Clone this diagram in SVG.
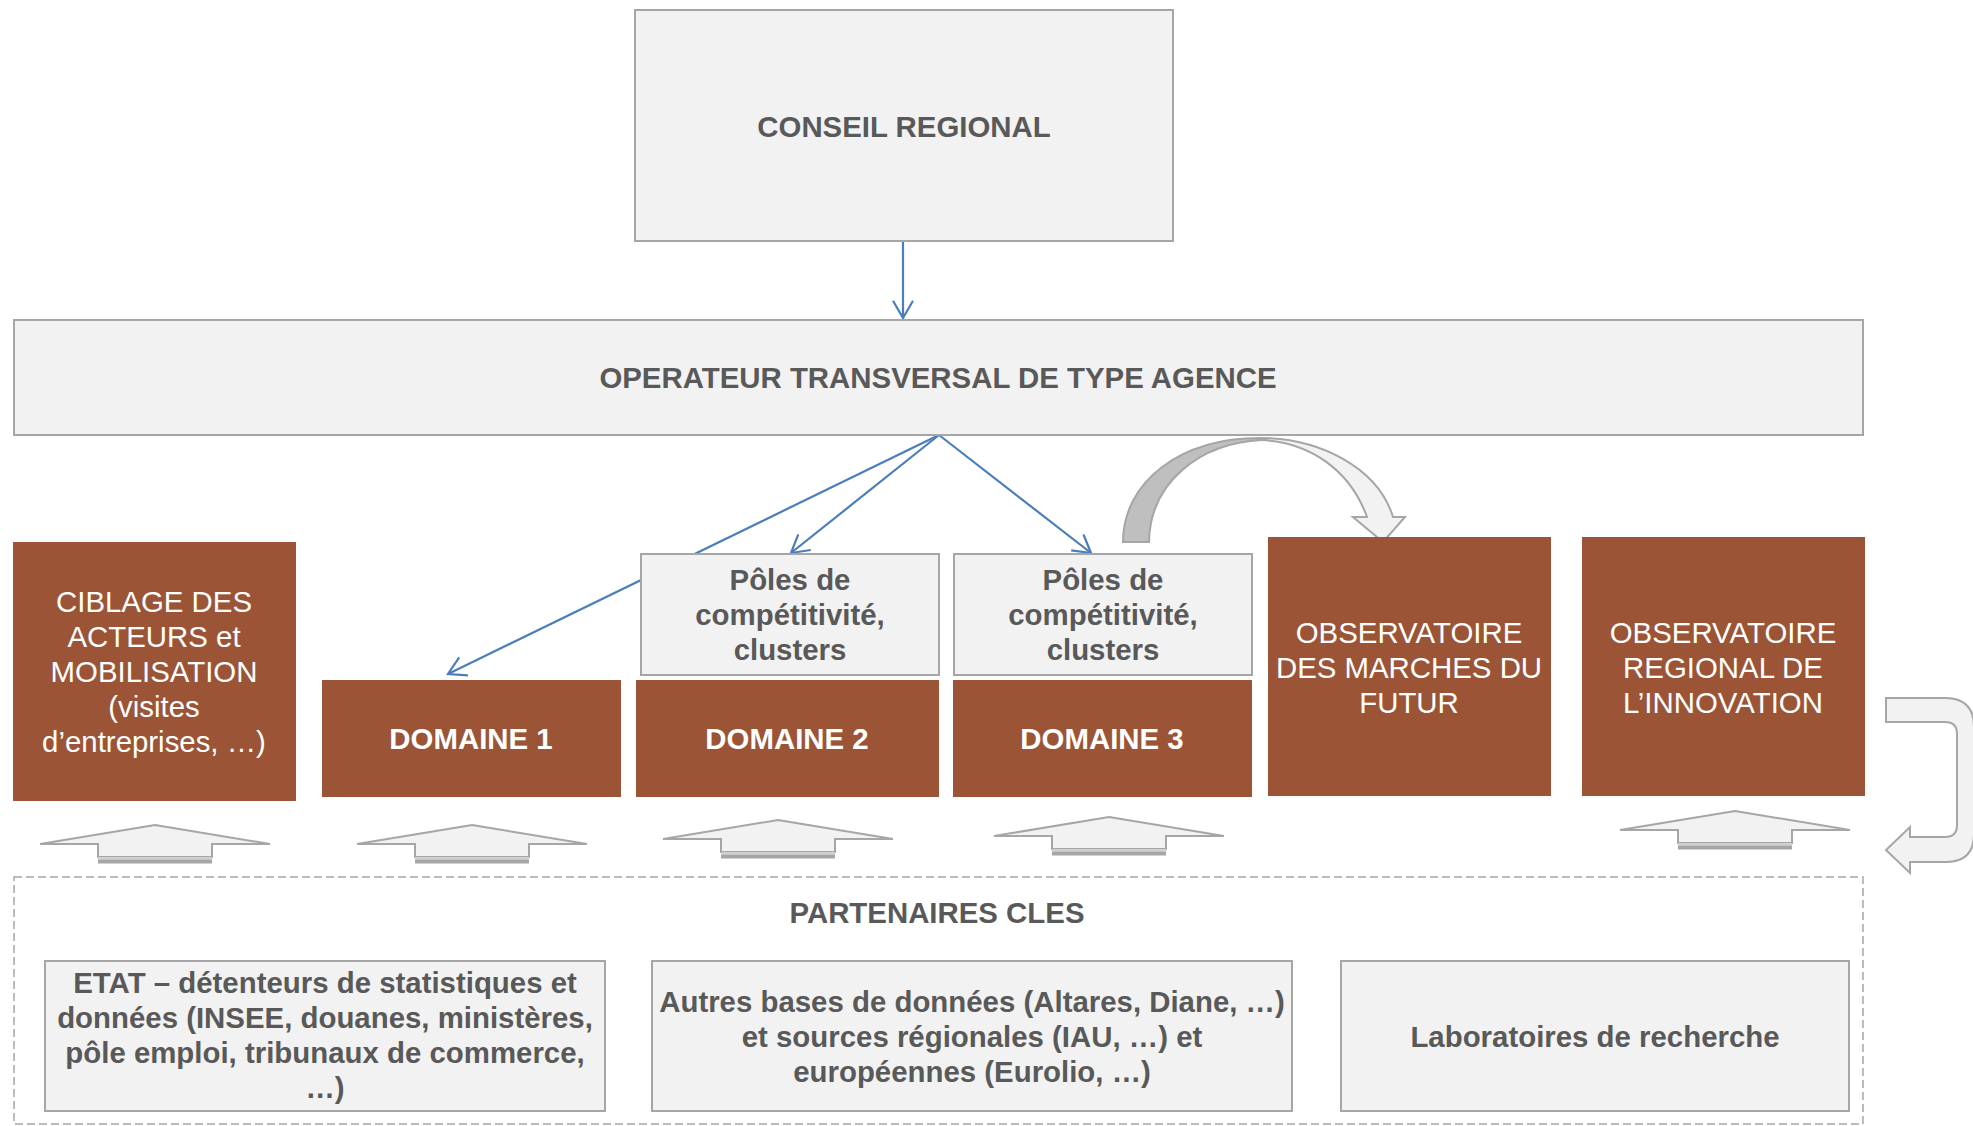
<svg xmlns="http://www.w3.org/2000/svg" xmlns:xlink="http://www.w3.org/1999/xlink" width="1973" height="1126" viewBox="0 0 1973 1126">
<style>
.box{fill:#F2F2F2;stroke:#A6A6A6;stroke-width:2}
.brown{fill:#9B5536}
.t{font-family:"Liberation Sans",Arial,sans-serif;font-size:29.4px;text-anchor:middle}
.g{fill:#595959;font-weight:bold}
.wb{fill:#FFFFFF;font-weight:bold}
.w{fill:#FFFFFF}
.blue{stroke:#4A7EBB;stroke-width:2.2;fill:none}
.blk{fill:#F2F2F2;stroke:#A6A6A6;stroke-width:2;stroke-linejoin:miter}
.dash{fill:none;stroke:#A6A6A6;stroke-width:1.5;stroke-dasharray:8 4}
</style>
<defs>
<marker id="open" markerUnits="userSpaceOnUse" viewBox="-20 -12 22 24" refX="0" refY="0" markerWidth="22" markerHeight="24" orient="auto">
<path d="M-17.3,-10 L0,0 L-17.3,10" fill="none" stroke="#4A7EBB" stroke-width="2.2"/>
</marker>
<g id="uparrow">
<polygon class="blk" points="0,0 115,19 57,19 57,32 -57,32 -57,19 -115,19"/>
<rect x="-57" y="32" width="114" height="2.5" fill="#D0D0D0"/>
<rect x="-57" y="34.5" width="114" height="4" fill="#A6A6A6"/>
</g>
</defs>
<rect width="1973" height="1126" fill="#FFFFFF"/>

<g id="connectors">
<line class="blue" x1="903" y1="241" x2="903" y2="318" marker-end="url(#open)"/>
<line class="blue" x1="939" y1="435" x2="448" y2="674" marker-end="url(#open)"/>
<line class="blue" x1="939" y1="435" x2="791" y2="553" marker-end="url(#open)"/>
<line class="blue" x1="939" y1="435" x2="1091" y2="553" marker-end="url(#open)"/>
<path d="M1123,542 C1123,482 1180,438 1260,438 L1262,440 C1200,443 1150,482 1149,542 Z" fill="#BFBFBF" stroke="#A6A6A6" stroke-width="2"/>
<path d="M1260,438 C1320,438 1378,468 1393,517 L1405,517 L1383,542 L1353,517 L1367,517 C1350,470 1310,442 1260,440 Z" class="blk"/>
<path d="M1886,698 L1945,698 Q1974,698 1974,727 L1974,834 Q1974,862 1946,862 L1910,862 L1910,873 L1886,850 L1910,827 L1910,837 L1945,837 Q1957,837 1957,825 L1957,734 Q1957,722 1945,722 L1886,722 Z" class="blk"/>
<use xlink:href="#uparrow" x="155" y="825"/>
<use xlink:href="#uparrow" x="472" y="825"/>
<use xlink:href="#uparrow" x="778" y="820"/>
<use xlink:href="#uparrow" x="1109" y="817"/>
<use xlink:href="#uparrow" x="1735" y="811"/>
</g>

<g id="conseil">
<rect class="box" x="635" y="10" width="538" height="231"/>
<text class="t g" x="904" y="137">CONSEIL REGIONAL</text>
</g>
<g id="operateur">
<rect class="box" x="14" y="320" width="1849" height="115"/>
<text class="t g" x="938" y="388">OPERATEUR TRANSVERSAL DE TYPE AGENCE</text>
</g>
<g id="ciblage">
<rect class="brown" x="13" y="542" width="283" height="259"/>
<text class="t w" x="154" y="612">CIBLAGE DES</text>
<text class="t w" x="154" y="647">ACTEURS et</text>
<text class="t w" x="154" y="682">MOBILISATION</text>
<text class="t w" x="154" y="717">(visites</text>
<text class="t w" x="154" y="752">d’entreprises, …)</text>
</g>
<g id="domaine1">
<rect class="brown" x="322" y="680" width="299" height="117"/>
<text class="t wb" x="471" y="749">DOMAINE 1</text>
</g>
<g id="poles1">
<rect class="box" x="641" y="554" width="298" height="121"/>
<text class="t g" x="790" y="590">Pôles de</text>
<text class="t g" x="790" y="625">compétitivité,</text>
<text class="t g" x="790" y="660">clusters</text>
</g>
<g id="domaine2">
<rect class="brown" x="636" y="680" width="303" height="117"/>
<text class="t wb" x="787" y="749">DOMAINE 2</text>
</g>
<g id="poles2">
<rect class="box" x="954" y="554" width="298" height="121"/>
<text class="t g" x="1103" y="590">Pôles de</text>
<text class="t g" x="1103" y="625">compétitivité,</text>
<text class="t g" x="1103" y="660">clusters</text>
</g>
<g id="domaine3">
<rect class="brown" x="953" y="680" width="299" height="117"/>
<text class="t wb" x="1102" y="749">DOMAINE 3</text>
</g>
<g id="obs-marches">
<rect class="brown" x="1268" y="537" width="283" height="259"/>
<text class="t w" x="1409" y="643">OBSERVATOIRE</text>
<text class="t w" x="1409" y="678">DES MARCHES DU</text>
<text class="t w" x="1409" y="713">FUTUR</text>
</g>
<g id="obs-innovation">
<rect class="brown" x="1582" y="537" width="283" height="259"/>
<text class="t w" x="1723" y="643">OBSERVATOIRE</text>
<text class="t w" x="1723" y="678">REGIONAL DE</text>
<text class="t w" x="1723" y="713">L’INNOVATION</text>
</g>
<g id="partenaires">
<rect class="dash" x="14" y="877" width="1849" height="247"/>
<text class="t g" x="937" y="923">PARTENAIRES CLES</text>
</g>
<g id="etat">
<rect class="box" x="45" y="961" width="560" height="150"/>
<text class="t g" x="325" y="993">ETAT – détenteurs de statistiques et</text>
<text class="t g" x="325" y="1028">données (INSEE, douanes, ministères,</text>
<text class="t g" x="325" y="1063">pôle emploi, tribunaux de commerce,</text>
<text class="t g" x="325" y="1098">…)</text>
</g>
<g id="autres">
<rect class="box" x="652" y="961" width="640" height="150"/>
<text class="t g" x="972" y="1012">Autres bases de données (Altares, Diane, …)</text>
<text class="t g" x="972" y="1047">et sources régionales (IAU, …) et</text>
<text class="t g" x="972" y="1082">européennes (Eurolio, …)</text>
</g>
<g id="laboratoires">
<rect class="box" x="1341" y="961" width="508" height="150"/>
<text class="t g" x="1595" y="1047">Laboratoires de recherche</text>
</g>
</svg>
